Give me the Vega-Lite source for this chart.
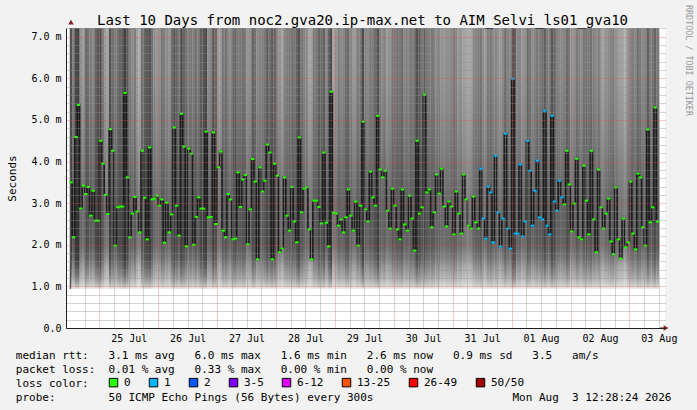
{
"$schema":"https://vega.github.io/schema/vega-lite/v6.json",
"autosize":{"type":"none"},
"width":599,"height":300,
"padding":{"left":66,"top":28,"right":32,"bottom":82},
"background":"#f2f2f2",
"config":{"view":{"fill":"white","stroke":null}},
"datasets":{"pings":[
{"t":12.5,"m":3.50,"s":0.2,"l":"0"},{"t":13.5,"m":2.18,"s":0.55,"l":"0"},{"t":14.5,"m":4.59,"s":0.1,"l":"0"},{"t":15.5,"m":5.36,"s":0.05,"l":"0"},{"t":16.5,"m":2.87,"s":0.7,"l":"0"},{"t":17.5,"m":3.42,"s":0.8,"l":"0"},{"t":18.5,"m":3.22,"s":0.35,"l":"0"},{"t":19.5,"m":3.39,"s":0.45,"l":"0"},{"t":20.5,"m":2.70,"s":0.55,"l":"0"},{"t":21.5,"m":3.30,"s":0.65,"l":"0"},
{"t":22.5,"m":2.58,"s":0.35,"l":"0"},{"t":23.5,"m":2.58,"s":0.25,"l":"0"},{"t":24.5,"m":4.50,"s":0.15,"l":"0"},{"t":25.5,"m":3.95,"s":0.55,"l":"0"},{"t":26.5,"m":3.20,"s":0.75,"l":"0"},{"t":27.5,"m":2.74,"s":0.85,"l":"0"},{"t":28.5,"m":4.78,"s":0.2,"l":"0"},{"t":29.5,"m":4.26,"s":0.45,"l":"0"},{"t":30.5,"m":1.98,"s":0.55,"l":"0"},{"t":31.5,"m":2.90,"s":0.45,"l":"0"},
{"t":32.5,"m":2.92,"s":0.35,"l":"0"},{"t":33.5,"m":2.92,"s":0.25,"l":"0"},{"t":34.5,"m":5.65,"s":0.05,"l":"0"},{"t":35.5,"m":3.62,"s":0.25,"l":"0"},{"t":36.5,"m":2.18,"s":0.55,"l":"0"},{"t":37.5,"m":2.75,"s":0.65,"l":"0"},{"t":38.5,"m":3.15,"s":0.55,"l":"0"},{"t":39.5,"m":2.80,"s":0.8,"l":"0"},{"t":40.5,"m":2.30,"s":0.9,"l":"0"},{"t":41.5,"m":4.26,"s":0.45,"l":"0"},
{"t":42.5,"m":3.13,"s":0.35,"l":"0"},{"t":43.5,"m":2.13,"s":0.25,"l":"0"},{"t":44.5,"m":4.34,"s":0.15,"l":"0"},{"t":45.5,"m":3.09,"s":0.45,"l":"0"},{"t":46.5,"m":3.11,"s":0.65,"l":"0"},{"t":47.5,"m":3.18,"s":0.75,"l":"0"},{"t":48.5,"m":2.94,"s":0.7,"l":"0"},{"t":49.5,"m":3.09,"s":0.5,"l":"0"},{"t":50.5,"m":2.05,"s":0.55,"l":"0"},{"t":51.5,"m":3.01,"s":0.65,"l":"0"},
{"t":52.5,"m":2.30,"s":0.75,"l":"0"},{"t":53.5,"m":2.73,"s":0.45,"l":"0"},{"t":54.5,"m":4.82,"s":0.2,"l":"0"},{"t":55.5,"m":2.94,"s":0.35,"l":"0"},{"t":56.5,"m":2.22,"s":0.55,"l":"0"},{"t":57.5,"m":5.15,"s":0.15,"l":"0"},{"t":58.5,"m":4.36,"s":0.35,"l":"0"},{"t":59.5,"m":1.96,"s":0.45,"l":"0"},{"t":60.5,"m":4.31,"s":0.55,"l":"0"},{"t":61.5,"m":4.19,"s":0.5,"l":"0"},
{"t":62.5,"m":2.00,"s":0.55,"l":"0"},{"t":63.5,"m":2.67,"s":0.45,"l":"0"},{"t":64.5,"m":3.14,"s":0.55,"l":"0"},{"t":65.5,"m":2.87,"s":0.3,"l":"0"},{"t":66.5,"m":2.87,"s":0.2,"l":"0"},{"t":67.5,"m":4.72,"s":0.15,"l":"0"},{"t":68.5,"m":2.66,"s":0.65,"l":"0"},{"t":69.5,"m":2.67,"s":0.6,"l":"0"},{"t":70.5,"m":4.70,"s":0.25,"l":"0"},{"t":71.5,"m":2.50,"s":0.4,"l":"0"},
{"t":72.5,"m":3.86,"s":0.8,"l":"0"},{"t":73.5,"m":4.24,"s":0.75,"l":"0"},{"t":74.5,"m":2.34,"s":0.5,"l":"0"},{"t":75.5,"m":2.18,"s":0.45,"l":"0"},{"t":76.5,"m":3.22,"s":0.6,"l":"0"},{"t":77.5,"m":3.09,"s":0.65,"l":"0"},{"t":78.5,"m":2.13,"s":0.4,"l":"0"},{"t":79.5,"m":2.15,"s":0.35,"l":"0"},{"t":80.5,"m":3.74,"s":0.55,"l":"0"},{"t":81.5,"m":2.91,"s":0.5,"l":"0"},
{"t":82.5,"m":3.57,"s":0.45,"l":"0"},{"t":83.5,"m":3.68,"s":0.5,"l":"0"},{"t":84.5,"m":2.01,"s":0.75,"l":"0"},{"t":85.5,"m":2.85,"s":0.7,"l":"0"},{"t":86.5,"m":4.06,"s":0.35,"l":"0"},{"t":87.5,"m":3.52,"s":0.45,"l":"0"},{"t":88.5,"m":1.65,"s":0.65,"l":"0"},{"t":89.5,"m":3.86,"s":0.6,"l":"0"},{"t":90.5,"m":3.28,"s":0.55,"l":"0"},{"t":91.5,"m":3.54,"s":0.5,"l":"0"},
{"t":92.5,"m":4.41,"s":0.3,"l":"0"},{"t":93.5,"m":4.22,"s":0.45,"l":"0"},{"t":94.5,"m":1.65,"s":0.3,"l":"0"},{"t":95.5,"m":3.95,"s":0.35,"l":"0"},{"t":96.5,"m":3.66,"s":0.6,"l":"0"},{"t":97.5,"m":1.82,"s":0.7,"l":"0"},{"t":98.5,"m":1.91,"s":0.85,"l":"0"},{"t":99.5,"m":3.62,"s":0.6,"l":"0"},{"t":100.5,"m":2.70,"s":0.55,"l":"0"},{"t":101.5,"m":2.34,"s":0.5,"l":"0"},
{"t":102.5,"m":3.39,"s":0.45,"l":"0"},{"t":103.5,"m":2.56,"s":0.5,"l":"0"},{"t":104.5,"m":2.06,"s":0.35,"l":"0"},{"t":105.5,"m":4.58,"s":0.2,"l":"0"},{"t":106.5,"m":2.78,"s":0.5,"l":"0"},{"t":107.5,"m":3.35,"s":0.6,"l":"0"},{"t":108.5,"m":3.38,"s":0.65,"l":"0"},{"t":109.5,"m":2.37,"s":0.85,"l":"0"},{"t":110.5,"m":1.65,"s":0.8,"l":"0"},{"t":111.5,"m":3.06,"s":0.55,"l":"0"},
{"t":112.5,"m":3.06,"s":0.5,"l":"0"},{"t":113.5,"m":2.91,"s":0.35,"l":"0"},{"t":114.5,"m":2.51,"s":0.4,"l":"0"},{"t":115.5,"m":4.22,"s":0.3,"l":"0"},{"t":116.5,"m":2.53,"s":0.65,"l":"0"},{"t":117.5,"m":1.96,"s":0.35,"l":"0"},{"t":118.5,"m":5.68,"s":0.15,"l":"0"},{"t":119.5,"m":2.77,"s":0.85,"l":"0"},{"t":120.5,"m":2.75,"s":0.75,"l":"0"},{"t":121.5,"m":2.46,"s":0.55,"l":"0"},
{"t":122.5,"m":2.61,"s":0.65,"l":"0"},{"t":123.5,"m":2.30,"s":0.6,"l":"0"},{"t":124.5,"m":2.66,"s":0.45,"l":"0"},{"t":125.5,"m":3.33,"s":0.4,"l":"0"},{"t":126.5,"m":2.70,"s":0.6,"l":"0"},{"t":127.5,"m":2.34,"s":0.75,"l":"0"},{"t":128.5,"m":3.04,"s":0.7,"l":"0"},{"t":129.5,"m":1.98,"s":0.55,"l":"0"},{"t":130.5,"m":2.94,"s":0.5,"l":"0"},{"t":131.5,"m":4.96,"s":0.15,"l":"0"},
{"t":132.5,"m":2.85,"s":0.6,"l":"0"},{"t":133.5,"m":2.56,"s":0.65,"l":"0"},{"t":134.5,"m":3.76,"s":0.5,"l":"0"},{"t":135.5,"m":3.14,"s":0.55,"l":"0"},{"t":136.5,"m":2.94,"s":0.4,"l":"0"},{"t":137.5,"m":5.10,"s":0.2,"l":"0"},{"t":138.5,"m":3.81,"s":0.55,"l":"0"},{"t":139.5,"m":3.62,"s":0.65,"l":"0"},{"t":140.5,"m":3.78,"s":0.6,"l":"0"},{"t":141.5,"m":2.82,"s":0.75,"l":"0"},
{"t":142.5,"m":2.39,"s":0.7,"l":"0"},{"t":143.5,"m":3.35,"s":0.5,"l":"0"},{"t":144.5,"m":2.94,"s":0.55,"l":"0"},{"t":145.5,"m":2.37,"s":0.45,"l":"0"},{"t":146.5,"m":2.13,"s":0.5,"l":"0"},{"t":147.5,"m":3.33,"s":0.4,"l":"0"},{"t":148.5,"m":2.49,"s":0.65,"l":"0"},{"t":149.5,"m":2.34,"s":0.6,"l":"0"},{"t":150.5,"m":3.18,"s":0.5,"l":"0"},{"t":151.5,"m":2.63,"s":0.55,"l":"0"},
{"t":152.5,"m":1.86,"s":0.45,"l":"0"},{"t":153.5,"m":4.50,"s":0.2,"l":"0"},{"t":154.5,"m":2.75,"s":0.3,"l":"0"},{"t":155.5,"m":2.90,"s":0.5,"l":"0"},{"t":156.5,"m":5.61,"s":0.3,"l":"0"},{"t":157.5,"m":3.26,"s":0.5,"l":"0"},{"t":158.5,"m":3.33,"s":0.55,"l":"0"},{"t":159.5,"m":2.42,"s":0.5,"l":"0"},{"t":160.5,"m":2.78,"s":0.55,"l":"0"},{"t":161.5,"m":3.69,"s":0.65,"l":"0"},
{"t":162.5,"m":3.23,"s":0.6,"l":"0"},{"t":163.5,"m":3.83,"s":0.7,"l":"0"},{"t":164.5,"m":2.92,"s":0.75,"l":"0"},{"t":165.5,"m":2.44,"s":0.65,"l":"0"},{"t":166.5,"m":3.04,"s":0.7,"l":"0"},{"t":167.5,"m":2.92,"s":0.6,"l":"0"},{"t":168.5,"m":2.25,"s":0.55,"l":"0"},{"t":169.5,"m":3.28,"s":0.6,"l":"0"},{"t":170.5,"m":2.75,"s":0.75,"l":"0"},{"t":171.5,"m":2.27,"s":0.7,"l":"0"},
{"t":172.5,"m":3.69,"s":0.8,"l":"0"},{"t":173.5,"m":3.09,"s":0.85,"l":"0"},{"t":174.5,"m":2.46,"s":0.9,"l":"0"},{"t":175.5,"m":2.39,"s":0.85,"l":"0"},{"t":176.5,"m":3.16,"s":0.65,"l":"0"},{"t":177.5,"m":2.54,"s":0.6,"l":"0"},{"t":178.5,"m":2.39,"s":0.55,"l":"0"},{"t":179.5,"m":3.83,"s":0.5,"l":"1"},{"t":180.5,"m":2.63,"s":0.7,"l":"1"},{"t":181.5,"m":2.15,"s":0.75,"l":"1"},
{"t":182.5,"m":3.40,"s":0.55,"l":"1"},{"t":183.5,"m":3.26,"s":0.5,"l":"1"},{"t":184.5,"m":2.06,"s":0.65,"l":"1"},{"t":185.5,"m":4.14,"s":0.6,"l":"1"},{"t":186.5,"m":2.78,"s":0.7,"l":"1"},{"t":187.5,"m":1.96,"s":0.75,"l":"1"},{"t":188.5,"m":2.63,"s":0.65,"l":"1"},{"t":189.5,"m":4.67,"s":0.4,"l":"1"},{"t":190.5,"m":2.39,"s":0.6,"l":"1"},{"t":191.5,"m":1.91,"s":0.65,"l":"1"},
{"t":192.5,"m":5.99,"s":0.2,"l":"1"},{"t":193.5,"m":2.27,"s":0.3,"l":"1"},{"t":194.5,"m":2.27,"s":0.65,"l":"1"},{"t":195.5,"m":3.93,"s":0.6,"l":"1"},{"t":196.5,"m":2.20,"s":0.75,"l":"1"},{"t":197.5,"m":2.56,"s":0.7,"l":"1"},{"t":198.5,"m":4.50,"s":0.4,"l":"1"},{"t":199.5,"m":3.78,"s":0.5,"l":"1"},{"t":200.5,"m":2.46,"s":0.65,"l":"1"},{"t":201.5,"m":3.30,"s":0.6,"l":"1"},
{"t":202.5,"m":4.02,"s":0.5,"l":"1"},{"t":203.5,"m":2.66,"s":0.55,"l":"1"},{"t":204.5,"m":2.61,"s":0.45,"l":"1"},{"t":205.5,"m":5.22,"s":0.3,"l":"1"},{"t":206.5,"m":2.46,"s":0.55,"l":"1"},{"t":207.5,"m":2.25,"s":0.55,"l":"1"},{"t":208.5,"m":5.10,"s":0.25,"l":"1"},{"t":209.5,"m":3.04,"s":0.35,"l":"1"},{"t":210.5,"m":2.82,"s":0.55,"l":"1"},{"t":211.5,"m":3.54,"s":0.6,"l":"1"},
{"t":212.5,"m":3.14,"s":0.65,"l":"1"},{"t":213.5,"m":2.97,"s":0.6,"l":"0"},{"t":214.5,"m":4.26,"s":0.4,"l":"0"},{"t":215.5,"m":3.45,"s":0.5,"l":"0"},{"t":216.5,"m":2.32,"s":0.75,"l":"0"},{"t":217.5,"m":2.99,"s":0.7,"l":"0"},{"t":218.5,"m":4.07,"s":0.5,"l":"0"},{"t":219.5,"m":2.18,"s":0.6,"l":"0"},{"t":220.5,"m":2.13,"s":0.65,"l":"0"},{"t":221.5,"m":3.90,"s":0.5,"l":"0"},
{"t":222.5,"m":3.06,"s":0.45,"l":"0"},{"t":223.5,"m":2.25,"s":0.55,"l":"0"},{"t":224.5,"m":4.26,"s":0.45,"l":"0"},{"t":225.5,"m":2.61,"s":0.6,"l":"0"},{"t":226.5,"m":1.82,"s":0.65,"l":"0"},{"t":227.5,"m":3.81,"s":0.55,"l":"0"},{"t":228.5,"m":2.90,"s":0.75,"l":"0"},{"t":229.5,"m":2.39,"s":0.8,"l":"0"},{"t":230.5,"m":2.75,"s":0.7,"l":"0"},{"t":231.5,"m":3.11,"s":0.65,"l":"0"},
{"t":232.5,"m":2.08,"s":0.6,"l":"0"},{"t":233.5,"m":1.77,"s":0.55,"l":"0"},{"t":234.5,"m":3.38,"s":0.7,"l":"0"},{"t":235.5,"m":2.13,"s":0.75,"l":"0"},{"t":236.5,"m":1.67,"s":0.8,"l":"0"},{"t":237.5,"m":2.63,"s":0.85,"l":"0"},{"t":238.5,"m":1.94,"s":0.9,"l":"0"},{"t":239.5,"m":2.06,"s":0.7,"l":"0"},{"t":240.5,"m":3.52,"s":0.6,"l":"0"},{"t":241.5,"m":2.27,"s":0.55,"l":"0"},
{"t":242.5,"m":1.89,"s":0.6,"l":"0"},{"t":243.5,"m":3.71,"s":0.45,"l":"0"},{"t":244.5,"m":3.62,"s":0.5,"l":"0"},{"t":245.5,"m":2.42,"s":0.65,"l":"0"},{"t":246.5,"m":1.98,"s":0.6,"l":"0"},{"t":247.5,"m":4.77,"s":0.3,"l":"0"},{"t":248.5,"m":2.54,"s":0.55,"l":"0"},{"t":249.5,"m":2.90,"s":0.5,"l":"0"},{"t":250.5,"m":5.30,"s":0.35,"l":"0"},{"t":251.5,"m":2.56,"s":0.5,"l":"0"}
]},
"resolve":{"axis":{"x":"independent","y":"independent"}},
"layer":[
{"data":{"name":"pings"},
 "mark":{"type":"bar","orient":"vertical","width":2.7,"clip":true},
 "encoding":{
  "x":{"field":"t","type":"quantitative","scale":{"domain":[12.467,252.467],"nice":false,"zero":false},
       "axis":{"orient":"bottom","values":[18,30,36,42,54,60,66,78,84,90,102,108,114,126,132,138,150,156,162,174,180,186,198,204,210,222,228,234,246,252],
               "grid":true,"gridColor":"rgba(143,143,143,0.75)","gridDash":[1,1],"gridWidth":1,"labels":false,"ticks":false,"domain":false,"title":null,"zindex":1}},
  "y":{"datum":0.94,"type":"quantitative","scale":{"domain":[0,7.21],"nice":false,"zero":false},"axis":null},
  "y2":{"datum":7.21},
  "fill":{"field":"s","type":"quantitative","scale":{"domain":[0,1],"range":["#3c3c3c","#bcbcbc"]},"legend":null}
 }},
{"data":{"values":[{}]},
 "mark":{"type":"rect","clip":true,"fill":{"gradient":"linear","x1":0,"y1":1,"x2":0,"y2":0,"stops":[
   {"offset":0,"color":"rgba(255,255,255,0.85)"},
   {"offset":0.0096,"color":"rgba(255,255,255,0.65)"},
   {"offset":0.0255,"color":"rgba(255,255,255,0.45)"},
   {"offset":0.049,"color":"rgba(255,255,255,0.26)"},
   {"offset":0.081,"color":"rgba(255,255,255,0.09)"},
   {"offset":0.113,"color":"rgba(0,0,0,0.1)"},
   {"offset":0.169,"color":"rgba(0,0,0,0.28)"},
   {"offset":0.33,"color":"rgba(0,0,0,0.28)"},
   {"offset":0.57,"color":"rgba(0,0,0,0.12)"},
   {"offset":0.81,"color":"rgba(0,0,0,0.02)"},
   {"offset":1,"color":"rgba(0,0,0,0)"}]}},
 "encoding":{
  "x":{"datum":12.467,"type":"quantitative","scale":{"domain":[12.467,252.467],"nice":false,"zero":false},"axis":null},
  "x2":{"datum":252.467},
  "y":{"datum":0.94,"type":"quantitative","scale":{"domain":[0,7.21],"nice":false,"zero":false},"axis":null},
  "y2":{"datum":7.21}
 }},
{"data":{"name":"pings"},
 "mark":{"type":"line","interpolate":"step","color":"#1c1c1c","strokeWidth":1.6,"clip":true},
 "encoding":{
  "x":{"field":"t","type":"quantitative","scale":{"domain":[12.467,252.467],"nice":false,"zero":false},
       "axis":{"orient":"bottom","values":[36,60,84,108,132,156,180,204,228,252],
               "labelExpr":"['25 Jul','26 Jul','27 Jul','28 Jul','29 Jul','30 Jul','31 Jul','01 Aug','02 Aug','03 Aug'][(datum.value-36)/24]",
               "grid":false,"ticks":false,"domain":true,"domainColor":"#1f1f1f","domainWidth":1,
               "labelFont":"DejaVu Sans Mono","labelFontSize":10,"labelColor":"#000000","labelPadding":5,"labelFlush":false,"labelOverlap":false,"labelBound":false,
               "title":["median\u00a0rtt:\u00a0\u00a0\u00a03.1\u00a0ms\u00a0avg\u00a0\u00a0\u00a06.0\u00a0ms\u00a0max\u00a0\u00a0\u00a01.6\u00a0ms\u00a0min\u00a0\u00a0\u00a02.6\u00a0ms\u00a0now\u00a0\u00a0\u00a00.9\u00a0ms\u00a0sd\u00a0\u00a0\u00a03.5\u00a0\u00a0\u00a0am/s",
                        "packet\u00a0loss:\u00a0\u00a00.01\u00a0%\u00a0avg\u00a0\u00a0\u00a00.33\u00a0%\u00a0max\u00a0\u00a0\u00a00.00\u00a0%\u00a0min\u00a0\u00a0\u00a00.00\u00a0%\u00a0now",
                        "loss\u00a0color:",
                        "probe:\u00a0\u00a0\u00a0\u00a0\u00a0\u00a0\u00a0\u00a050\u00a0ICMP\u00a0Echo\u00a0Pings\u00a0(56\u00a0Bytes)\u00a0every\u00a0300s\u00a0\u00a0\u00a0\u00a0\u00a0\u00a0\u00a0\u00a0\u00a0\u00a0\u00a0\u00a0\u00a0\u00a0\u00a0\u00a0\u00a0\u00a0\u00a0\u00a0\u00a0Mon\u00a0Aug\u00a0\u00a03\u00a012:28:24\u00a02026"],
               "titleFont":"DejaVu Sans Mono","titleFontSize":11,"titleFontWeight":"normal","titleColor":"#000000",
               "titleAlign":"left","titleAnchor":"start","titleBaseline":"alphabetic","titleX":-50.7,"titleY":30,"titleLineHeight":14,"titleLimit":2000,"titleAngle":0,"zindex":1}},
  "y":{"field":"m","type":"quantitative","scale":{"domain":[0,7.21],"nice":false,"zero":false},
       "axis":{"orient":"left","values":[0,1,2,3,4,5,6,7],
               "labelExpr":"datum.value === 0 ? '0.0' : format(datum.value, '.1f') + ' m'",
               "grid":true,"gridColor":"rgba(222,79,79,0.6)","gridDash":[1,1],"gridWidth":1,
               "gridOpacity":{"condition":{"test":"datum.value === 0","value":0},"value":1},
               "ticks":false,"domain":true,"domainColor":"#1f1f1f","domainWidth":1,
               "labelFont":"DejaVu Sans Mono","labelFontSize":10,"labelColor":"#000000","labelPadding":5,
               "title":"Seconds","titleFont":"DejaVu Sans Mono","titleFontSize":11,"titleFontWeight":"normal","titleColor":"#000000",
               "titleX":-54,"titleY":150,"titleAngle":270,"titleAlign":"center","titleBaseline":"middle","zindex":1}}
 }},
{"data":{"name":"pings"},
 "mark":{"type":"tick","orient":"horizontal","size":3.5,"thickness":2,"opacity":1,"clip":true},
 "encoding":{
  "x":{"field":"t","type":"quantitative","scale":{"domain":[12.467,252.467],"nice":false,"zero":false},
       "axis":{"orient":"top","values":[24,48,72,96,120,144,168,192,216,240],
               "grid":true,"gridColor":"rgba(222,79,79,0.6)","gridDash":[1,1],"gridWidth":1,"labels":false,"ticks":false,"domain":false,
               "title":"Last 10 Days from noc2.gva20.ip-max.net to AIM_Selvi_ls01_gva10",
               "titleFont":"DejaVu Sans Mono","titleFontSize":14,"titleFontWeight":"normal","titleColor":"#000000",
               "titleX":296,"titleY":-4,"titleAlign":"center","titleBaseline":"alphabetic","titleAngle":0,"titleLimit":2000,"zindex":1}},
  "y":{"field":"m","type":"quantitative","scale":{"domain":[0,7.21],"nice":false,"zero":false},
       "axis":{"orient":"right","values":[0.2,0.4,0.6,0.8,1.2,1.4,1.6,1.8,2.2,2.4,2.6,2.8,3.2,3.4,3.6,3.8,4.2,4.4,4.6,4.8,5.2,5.4,5.6,5.8,6.2,6.4,6.6,6.8,7.2],
               "grid":true,"gridColor":"rgba(143,143,143,0.75)","gridDash":[1,1],"gridWidth":1,"labels":false,"ticks":false,"domain":false,
               "title":"RRDTOOL / TOBI OETIKER","titleFont":"DejaVu Sans Mono","titleFontSize":8.4,"titleFontWeight":"normal","titleColor":"#999999",
               "titleX":23,"titleY":32,"titleAngle":90,"titleAlign":"center","titleBaseline":"middle","titleLimit":2000,"zindex":1}},
  "color":{"field":"l","type":"nominal",
           "scale":{"domain":["0","1","2","3-5","6-12","13-25","26-49","50/50"],"range":["#26ff00","#00b8ff","#0059ff","#7e00ff","#dd00ff","#ff5500","#ff0000","#a10000"]},
           "legend":{"orient":"none","legendX":42,"legendY":349,"direction":"horizontal","title":null,"padding":0,
                     "symbolType":"square","symbolSize":72,"symbolStrokeColor":"#000000","symbolStrokeWidth":1,"symbolOpacity":1,
                     "labelFont":"DejaVu Sans Mono","labelFontSize":11,"labelColor":"#000000","labelOffset":5,"columnPadding":16,
                     "encode":{"symbols":{"update":{"stroke":{"value":"#000000"},"strokeWidth":{"value":1},"opacity":{"value":1}}}}}}
 }},
{"data":{"values":[{}]},
 "mark":{"type":"rule","color":"#1f1f1f","strokeWidth":1,"clip":false},
 "encoding":{
  "x":{"datum":252.467,"type":"quantitative","scale":{"domain":[12.467,252.467],"nice":false,"zero":false},"axis":null},
  "x2":{"datum":254.2},
  "y":{"datum":0,"type":"quantitative","scale":{"domain":[0,7.21],"nice":false,"zero":false},"axis":null}
 }},
{"data":{"values":[{}]},
 "mark":{"type":"point","shape":"triangle-right","filled":true,"size":30,"color":"#801f1f","opacity":1,"clip":false},
 "encoding":{
  "x":{"datum":254.9,"type":"quantitative","scale":{"domain":[12.467,252.467],"nice":false,"zero":false},"axis":null},
  "y":{"datum":0,"type":"quantitative","scale":{"domain":[0,7.21],"nice":false,"zero":false},"axis":null}
 }},
{"data":{"values":[{}]},
 "mark":{"type":"point","shape":"triangle-up","filled":true,"size":30,"color":"#801f1f","opacity":1,"clip":false},
 "encoding":{
  "x":{"datum":12.467,"type":"quantitative","scale":{"domain":[12.467,252.467],"nice":false,"zero":false},"axis":null},
  "y":{"datum":7.35,"type":"quantitative","scale":{"domain":[0,7.21],"nice":false,"zero":false},"axis":null}
 }}
]
}
